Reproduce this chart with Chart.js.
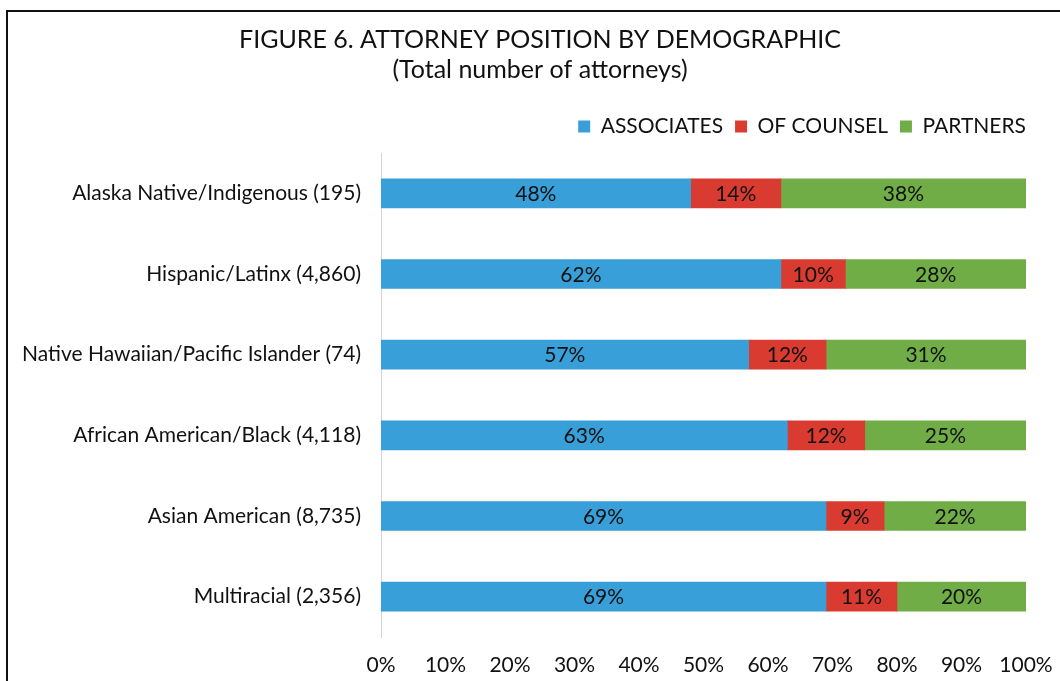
<!DOCTYPE html>
<html>
<head>
<meta charset="utf-8">
<script src="https://cdn.jsdelivr.net/npm/chart.js@4/dist/chart.umd.min.js"></script>
<style>
  html, body { margin: 0; padding: 0; background: #fff; overflow: hidden; }
  #frame {
    position: absolute; left: 6px; top: 10px;
    width: 1100px; height: 720px;
    border-left: 2px solid #111; border-top: 2px solid #111;
  }
  #wrap { position: absolute; left: 0; top: 0; width: 1060px; height: 681px; }
</style>
</head>
<body>
<div id="frame"></div>
<div id="wrap"><canvas id="chart"></canvas></div>
<script>
// ── data ────────────────────────────────────────────────────────────────────
const categories = [
  "Alaska Native/Indigenous (195)",
  "Hispanic/Latinx (4,860)",
  "Native Hawaiian/Pacific Islander (74)",
  "African American/Black (4,118)",
  "Asian American (8,735)",
  "Multiracial (2,356)"
]
const associates = [48, 62, 57, 63, 69, 69]
const ofCounsel  = [14, 10, 12, 12,  9, 11]
const partners   = [38, 28, 31, 25, 22, 20]
const xTicks = [0, 10, 20, 30, 40, 50, 60, 70, 80, 90, 100]

// ── bar value labels, drawn in the middle of each segment ─────────────────────
const segmentLabels = {
  id: "segmentLabels",
  afterDatasetsDraw(chart) {
    const ctx = chart.ctx
    ctx.save()
    ctx.font = "21px Lato"
    ctx.fillStyle = "#111"
    ctx.textAlign = "center"
    ctx.textBaseline = "middle"
    chart.data.datasets.forEach((ds, i) => {
      chart.getDatasetMeta(i).data.forEach((bar, j) => {
        const p = bar.getProps(["x", "base", "y"], true)
        ctx.fillText(ds.data[j] + "%", (p.x + p.base) / 2, p.y + 1)
      })
    })
    ctx.restore()
  }
}

// centre the title on the page rather than on the legend box
const centreTitle = {
  id: "centreTitle",
  afterLayout(chart) {
    if (!chart.titleBlock) return
    chart.titleBlock.left = 0
    chart.titleBlock.right = 1080
  }
}

const bar = (label, data, color) => ({
  label, data,
  backgroundColor: color,
  borderWidth: 0,
  barThickness: 29
})

// empty axis used only as a spacer
const spacer = (position, fit) => ({
  type: "linear",
  position,
  min: 0,
  max: 1,
  ticks: { display: false },
  grid: { display: false, drawTicks: false },
  border: { display: false },
  afterFit: fit
})

new Chart(document.getElementById("chart"), {
  type: "bar",
  data: {
    labels: categories,
    datasets: [
      bar("ASSOCIATES", associates, "#389fd9"),
      bar("OF COUNSEL", ofCounsel, "#da3b30"),
      bar("PARTNERS",   partners,   "#70ad47")
    ]
  },
  plugins: [segmentLabels, centreTitle],
  options: {
    indexAxis: "y",
    responsive: true,
    maintainAspectRatio: false,
    animation: false,
    layout: { padding: { left: 0, right: 22, top: 0, bottom: 0 } },
    plugins: {
      title: {
        display: true,
        text: ["FIGURE 6. ATTORNEY POSITION BY DEMOGRAPHIC", "(Total number of attorneys)"],
        color: "#111",
        font: { family: "Lato", size: 25, weight: "normal", lineHeight: 1.2 },
        padding: { top: 25, bottom: 19 }
      },
      legend: {
        display: true,
        position: "top",
        align: "end",
        labels: {
          color: "#111",
          font: { family: "Lato", size: 21 },
          boxWidth: 12,
          boxHeight: 12,
          padding: 12
        }
      },
      tooltip: { enabled: false }
    },
    scales: {
      x: {
        stacked: true,
        min: 0,
        max: 100,
        afterBuildTicks: s => { s.ticks = xTicks.map(v => ({ value: v })) },
        ticks: {
          color: "#111",
          font: { family: "Lato", size: 21 },
          padding: 3,
          callback: v => v + "%"
        },
        grid: { display: false, drawTicks: true, tickLength: 13, tickColor: "rgba(0,0,0,0)" },
        border: { display: false },
        afterFit: s => { s.height = 44 }
      },
      y: {
        stacked: true,
        ticks: {
          color: "#111",
          font: { family: "Lato", size: 21 },
          padding: 20
        },
        grid: { display: false, drawTicks: false },
        border: { display: true, color: "#d4d4d4", width: 1 },
        afterFit: s => { s.width = 381 }
      },
      xTop:   spacer("top",   s => { s.height = 6 }),
      yRight: spacer("right", s => { s.width = 12 })
    }
  }
})
</script>
</body>
</html>
